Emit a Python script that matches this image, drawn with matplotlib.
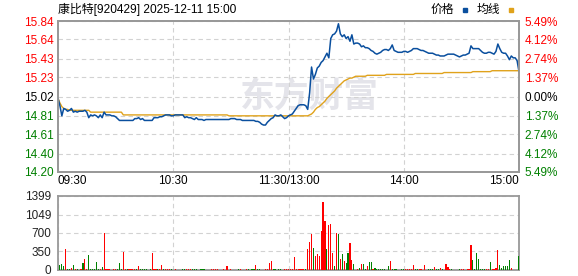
import matplotlib
matplotlib.use('Agg')
import matplotlib.pyplot as plt
from matplotlib.lines import Line2D

plt.rcParams['font.family'] = ['Liberation Sans', 'Noto Sans CJK SC', 'DejaVu Sans']

# ---------------- data ----------------
title = '康比特[920429] 2025-12-11 15:00'
pre_close = 15.02
price_ticks = [15.84, 15.64, 15.43, 15.23, 15.02, 14.81, 14.61, 14.40, 14.20]
price_labels = ['15.84', '15.64', '15.43', '15.23', '15.02', '14.81', '14.61', '14.40', '14.20']
pct_labels = ['5.49%', '4.12%', '2.74%', '1.37%', '0.00%', '1.37%', '2.74%', '4.12%', '5.49%']
time_ticks = [0, 60, 120, 180, 240]
time_labels = ['09:30', '10:30', '11:30/13:00', '14:00', '15:00']
vol_ticks = [0, 350, 700, 1049, 1399]
vol_labels = ['0', '350', '700', '1049', '1399']

# one value per minute, 09:30 .. 11:30, 13:01 .. 15:00
price = [
    15.00, 14.92, 14.81, 14.89, 14.88, 14.86, 14.87, 14.89, 14.85, 14.86,
    14.85, 14.86, 14.86, 14.86, 14.87, 14.85, 14.79, 14.82, 14.81, 14.82,
    14.81, 14.79, 14.82, 14.79, 14.85, 14.82, 14.82, 14.82, 14.81, 14.81,
    14.80, 14.78, 14.76, 14.76, 14.76, 14.76, 14.76, 14.76, 14.76, 14.76,
    14.78, 14.78, 14.79, 14.77, 14.78, 14.76, 14.76, 14.76, 14.76, 14.76,
    14.79, 14.79, 14.79, 14.80, 14.80, 14.81, 14.82, 14.82, 14.82, 14.81,
    14.81,
    14.82, 14.82, 14.82, 14.82, 14.82, 14.79, 14.80, 14.79, 14.79, 14.78,
    14.77, 14.79, 14.77, 14.77, 14.77, 14.76, 14.77, 14.77, 14.77, 14.77,
    14.77, 14.77, 14.77, 14.77, 14.77, 14.77, 14.77, 14.77, 14.77, 14.78,
    14.78, 14.78, 14.77, 14.77, 14.77, 14.76, 14.76, 14.76, 14.76, 14.76,
    14.76, 14.76, 14.75, 14.75, 14.74, 14.72, 14.71, 14.71, 14.74, 14.76,
    14.78, 14.79, 14.82, 14.81, 14.81, 14.82, 14.80, 14.78, 14.79, 14.81,
    14.82, 14.83, 14.86, 14.89, 14.92, 14.93, 14.93, 14.93, 14.92, 14.88,
    15.06, 15.34, 15.21, 15.26, 15.33, 15.35, 15.39, 15.41, 15.45, 15.49,
    15.44, 15.65, 15.69, 15.70, 15.73, 15.81, 15.70, 15.67, 15.69, 15.65,
    15.67, 15.62, 15.69, 15.59, 15.60, 15.60, 15.59, 15.56, 15.57, 15.55,
    15.55, 15.54, 15.52, 15.51, 15.49, 15.48, 15.49, 15.50, 15.52, 15.53,
    15.53, 15.52, 15.54, 15.58, 15.52, 15.51, 15.50, 15.50, 15.50, 15.51,
    15.51, 15.50, 15.51, 15.52, 15.54, 15.54, 15.54, 15.53, 15.52, 15.52,
    15.51, 15.50, 15.49, 15.49, 15.49, 15.48, 15.47, 15.47, 15.46, 15.46,
    15.46, 15.47, 15.48, 15.48, 15.48, 15.48, 15.47, 15.46, 15.45, 15.46,
    15.47, 15.47, 15.48, 15.49, 15.57, 15.54, 15.54, 15.54, 15.54, 15.52,
    15.50, 15.49, 15.49, 15.50, 15.50, 15.49, 15.48, 15.51, 15.59, 15.54,
    15.50, 15.49, 15.49, 15.46, 15.42, 15.46, 15.44, 15.44, 15.41, 15.29,
]

avg_price = [
    15.00, 14.95, 14.91, 14.89, 14.88, 14.88, 14.87, 14.87, 14.87, 14.87,
    14.87, 14.87, 14.87, 14.87, 14.87, 14.87, 14.87, 14.85, 14.85, 14.85,
    14.85, 14.85, 14.85, 14.85, 14.85, 14.85, 14.85, 14.85, 14.85, 14.85,
    14.85, 14.85, 14.85, 14.85, 14.82, 14.82, 14.82, 14.82, 14.82, 14.82,
    14.82, 14.82, 14.82, 14.82, 14.82, 14.82, 14.82, 14.82, 14.82, 14.82,
    14.82, 14.82, 14.82, 14.82, 14.82, 14.82, 14.82, 14.82, 14.82, 14.82,
    14.82, 14.82, 14.82, 14.82, 14.82, 14.82, 14.82, 14.82, 14.82, 14.82,
    14.82, 14.82, 14.82, 14.82, 14.82, 14.82, 14.82, 14.82, 14.82, 14.82,
    14.82, 14.82, 14.82, 14.82, 14.82, 14.82, 14.82, 14.82, 14.82, 14.81,
    14.81, 14.81, 14.81, 14.81, 14.81, 14.81, 14.81, 14.81, 14.81, 14.81,
    14.81, 14.81, 14.81, 14.81, 14.81, 14.81, 14.81, 14.81, 14.81, 14.81,
    14.81, 14.81, 14.81, 14.81, 14.81, 14.81, 14.81, 14.81, 14.81, 14.81,
    14.81, 14.81, 14.81, 14.81, 14.81, 14.81, 14.81, 14.81, 14.81, 14.81,
    14.81, 14.82, 14.83, 14.85, 14.88, 14.90, 14.91, 14.93, 14.95, 14.97,
    15.00, 15.02, 15.04, 15.06, 15.08, 15.11, 15.13, 15.15, 15.17, 15.19,
    15.20, 15.21, 15.22, 15.22, 15.23, 15.24, 15.24, 15.24, 15.24, 15.24,
    15.24, 15.25, 15.25, 15.25, 15.25, 15.25, 15.25, 15.25, 15.25, 15.25,
    15.25, 15.26, 15.26, 15.26, 15.26, 15.26, 15.26, 15.26, 15.26, 15.26,
    15.26, 15.26, 15.26, 15.26, 15.26, 15.26, 15.27, 15.27, 15.27, 15.27,
    15.27, 15.27, 15.27, 15.27, 15.27, 15.27, 15.27, 15.27, 15.27, 15.27,
    15.27, 15.28, 15.28, 15.28, 15.28, 15.28, 15.28, 15.28, 15.28, 15.28,
    15.28, 15.28, 15.28, 15.28, 15.28, 15.28, 15.29, 15.29, 15.29, 15.29,
    15.29, 15.29, 15.29, 15.29, 15.29, 15.29, 15.30, 15.30, 15.30, 15.30,
    15.30, 15.30, 15.30, 15.30, 15.30, 15.30, 15.30, 15.30, 15.30, 15.30,
    15.30,
]

volume = [
    0, 95, 113, 76, 397, 19, 19, 38, 95, 19,
    19, 0, 19, 132, 208, 19, 284, 19, 19, 19,
    151, 19, 19, 57, 700, 19, 19, 19, 0, 19,
    19, 19, 132, 19, 340, 19, 19, 19, 19, 19,
    19, 19, 76, 19, 19, 19, 19, 0, 19, 321,
    19, 19, 19, 19, 95, 19, 19, 19, 19, 19,
    0, 19, 0, 0, 0, 19, 19, 19, 19, 19,
    19, 19, 19, 0, 19, 19, 19, 0, 0, 0,
    19, 19, 19, 19, 0, 0, 19, 0, 76, 0,
    19, 0, 0, 0, 19, 19, 0, 0, 19, 19,
    0, 19, 19, 95, 19, 19, 0, 0, 19, 19,
    132, 170, 19, 19, 0, 19, 19, 0, 19, 19,
    19, 19, 19, 246, 19, 19, 19, 19, 19, 19,
    397, 529, 680, 416, 265, 302, 265, 737, 1285, 926,
    397, 850, 869, 321, 76, 700, 680, 208, 302, 170,
    132, 321, 510, 189, 113, 0, 19, 38, 113, 113,
    19, 76, 151, 151, 19, 38, 19, 19, 19, 19,
    19, 0, 76, 170, 19, 19, 19, 0, 0, 19,
    19, 19, 19, 19, 19, 95, 19, 19, 19, 19,
    0, 95, 0, 19, 19, 19, 57, 19, 19, 38,
    19, 0, 113, 57, 19, 19, 0, 0, 0, 19,
    19, 19, 0, 19, 19, 472, 189, 19, 321, 208,
    19, 19, 19, 19, 19, 151, 19, 19, 38, 378,
    95, 38, 76, 76, 76, 189, 38, 0, 0, 0,
    265,
]

# 1 = price up that minute (red), 0 = down (green)
vol_up = [
    1, 0, 0, 0, 1, 0, 0, 1, 0, 1,
    0, 1, 1, 0, 1, 1, 0, 0, 0, 0,
    0, 0, 1, 0, 1, 1, 1, 1, 1, 1,
    1, 0, 0, 0, 1, 1, 0, 1, 1, 1,
    1, 0, 1, 0, 0, 0, 0, 0, 0, 1,
    1, 1, 0, 1, 1, 0, 1, 1, 1, 0,
    0, 1, 0, 0, 0, 0, 0, 1, 1, 1,
    0, 0, 0, 0, 0, 0, 0, 0, 0, 0,
    1, 1, 1, 1, 0, 0, 1, 0, 1, 0,
    1, 0, 0, 0, 0, 1, 0, 0, 1, 0,
    0, 0, 0, 1, 0, 0, 0, 0, 1, 1,
    1, 1, 0, 0, 0, 0, 0, 0, 1, 1,
    1, 1, 1, 1, 1, 1, 1, 1, 1, 0,
    1, 1, 1, 0, 1, 1, 1, 1, 1, 1,
    0, 1, 1, 1, 0, 1, 0, 1, 0, 1,
    0, 0, 1, 1, 0, 0, 1, 0, 1, 0,
    0, 1, 0, 0, 1, 0, 0, 0, 0, 0,
    0, 0, 0, 1, 0, 0, 0, 0, 0, 0,
    0, 1, 1, 1, 1, 1, 0, 0, 1, 1,
    0, 1, 0, 0, 0, 0, 1, 0, 0, 1,
    0, 0, 1, 1, 1, 0, 0, 0, 0, 0,
    1, 1, 0, 1, 1, 1, 0, 0, 0, 0,
    0, 0, 0, 1, 1, 0, 1, 1, 1, 1,
    0, 0, 0, 0, 0, 0, 1, 0, 0, 0,
    0,
]

# ---------------- style ----------------
RED = '#ff0000'
GREEN = '#008000'
BLUE = '#0a4f9e'
GOLD = '#e0a21b'
FRAME = '#999999'
GRID = '#d2d2d2'

minutes = list(range(len(price)))

fig = plt.figure(figsize=(5.78, 2.76), dpi=100)
ax = fig.add_axes([58 / 578, 1 - 172 / 276, 461 / 578, 151 / 276])
axv = fig.add_axes([58 / 578, 1 - 270 / 276, 461 / 578, 74 / 276])

# price panel
ax.plot(minutes, avg_price, color=GOLD, lw=1.0, zorder=3)
ax.plot(minutes, price, color=BLUE, lw=1.1, zorder=4)
ax.set_xlim(0, 240)
ax.set_ylim(price_ticks[-1], price_ticks[0])
ax.set_yticks(price_ticks)
ax.set_yticklabels(price_labels)
ax.set_xticks(time_ticks)
ax.set_xticklabels(time_labels)
ax.tick_params(axis='both', length=0, labelsize=8.5)
ax.tick_params(axis='y', pad=3)
ax.tick_params(axis='x', pad=2)
for lab, v in zip(ax.get_yticklabels(), price_ticks):
    lab.set_color(RED if v > pre_close else (GREEN if v < pre_close else 'black'))
xl = ax.get_xticklabels()
xl[0].set_ha('left')
xl[-1].set_ha('right')
ax.grid(True, color=GRID, ls=(0, (4, 3)), lw=0.8, zorder=0)

ax2 = ax.twinx()
ax2.set_ylim(ax.get_ylim())
ax2.set_yticks(price_ticks)
ax2.set_yticklabels(pct_labels)
ax2.tick_params(axis='y', length=0, labelsize=8.5, pad=4)
for lab, v in zip(ax2.get_yticklabels(), price_ticks):
    lab.set_color(RED if v > pre_close else (GREEN if v < pre_close else 'black'))

for a in (ax, ax2, axv):
    for s in a.spines.values():
        s.set_color(FRAME)
        s.set_linewidth(1.3)

# watermark
ax.text(0.545, 0.50, '东方财富', transform=ax.transAxes, ha='center', va='center',
        fontsize=25, fontweight='bold', color='#e4e4ea',
        family=['Noto Sans CJK SC', 'DejaVu Sans'], zorder=1)

# volume panel
bar_colors = [RED if u else GREEN for u in vol_up]
axv.bar(minutes, volume, width=0.6, color=bar_colors, linewidth=0,
        antialiased=False, zorder=3)
axv.set_xlim(0, 240)
axv.set_ylim(0, vol_ticks[-1])
axv.set_yticks(vol_ticks)
axv.set_yticklabels(vol_labels)
axv.set_xticks(time_ticks)
axv.set_xticklabels([])
axv.tick_params(axis='both', length=0, labelsize=8.5, labelcolor='#222222')
axv.tick_params(axis='y', pad=5)
axv.grid(True, color=GRID, ls=(0, (4, 3)), lw=0.8, zorder=0)

# title and legend
fig.text(58 / 578, 1 - 9 / 276, title, ha='left', va='center', fontsize=8.6,
         family=['Liberation Sans', 'Noto Sans CJK SC'])
fig.text(431 / 578, 1 - 9 / 276, '价格', ha='left', va='center', fontsize=8.5,
         family=['Noto Sans CJK SC', 'DejaVu Sans'])
fig.add_artist(Line2D([465 / 578], [1 - 10 / 276], marker='s', ms=3.2, color=BLUE,
                      linestyle='', transform=fig.transFigure))
fig.text(477 / 578, 1 - 9 / 276, '均线', ha='left', va='center', fontsize=8.5,
         family=['Noto Sans CJK SC', 'DejaVu Sans'])
fig.add_artist(Line2D([511 / 578], [1 - 10 / 276], marker='s', ms=3.2, color=GOLD,
                      linestyle='', transform=fig.transFigure))

fig.savefig('out.png', dpi=100)
